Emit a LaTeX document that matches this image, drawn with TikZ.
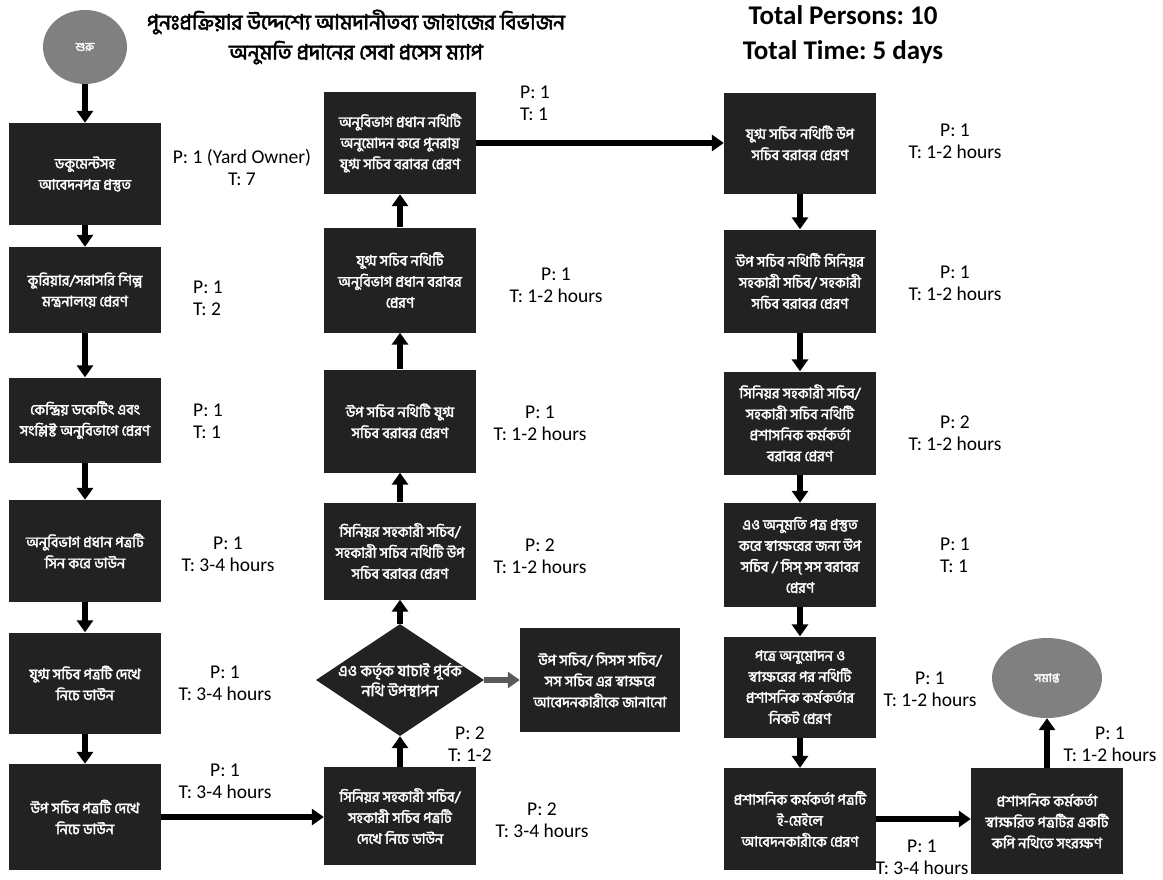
\documentclass[tikz,border=0pt]{standalone}
\usepackage{fontspec}
\setmainfont{Carlito}
\newfontfamily\bn[Script=Bengali]{Hind Siliguri}
\newfontfamily\bnb[Script=Bengali,FakeBold=2.5]{Hind Siliguri}
\usetikzlibrary{shapes.geometric,arrows.meta}
\definecolor{boxfill}{RGB}{34,34,34}
\definecolor{ellfill}{RGB}{128,128,128}
\definecolor{sidearr}{RGB}{90,90,90}
\frenchspacing
\tikzset{
  box/.style={rectangle, fill=boxfill, text=white, minimum width=152pt, align=center,
    inner sep=1pt, font=\bnb\fontsize{14.5}{21}\selectfont},
  lab/.style={align=center, font=\fontsize{19.5}{22}\selectfont, inner sep=0pt},
  labl/.style={align=left, font=\fontsize{19.5}{22}\selectfont, inner sep=0pt},
  arr/.style={line width=5.5pt, -{Triangle[width=16pt,length=12pt]}},
  term/.style={ellipse, fill=ellfill, text=white, font=\bnb\fontsize{12}{14}\selectfont}
}
\begin{document}
\begin{tikzpicture}[x=1pt,y=-1pt]
\useasboundingbox[fill=white] (0,0) rectangle (1163,879);

% header
\node[align=center, font=\bnb\fontsize{21}{30}\selectfont] (title) at (356,37)
  {পুনঃপ্রক্রিয়ার উদ্দেশ্যে আমদানীতব্য জাহাজের বিভাজন\\অনুমতি প্রদানের সেবা প্রসেস ম্যাপ};
\node[align=center, font=\bfseries\fontsize{27}{35}\selectfont] (tot) at (843,35)
  {Total Persons: 10\\Total Time: 5 days};

% column 1
\node[term, minimum width=84pt, minimum height=74pt] (start) at (85,47) {শুরু};
\node[box, minimum height=102pt] (b1) at (85,174) {ডকুমেন্টসহ\\আবেদনপত্র প্রস্তুত};
\node[box, minimum height=86pt] (b2) at (85,290) {কুরিয়ার/সরাসরি শিল্প\\মন্ত্রনালয়ে প্রেরণ};
\node[box, minimum height=85pt] (b3) at (85,420) {কেন্দ্রিয় ডকেটিং এবং\\সংশ্লিষ্ট অনুবিভাগে প্রেরণ};
\node[box, minimum height=102pt] (b4) at (85,551) {অনুবিভাগ প্রধান পত্রটি\\সিন করে ডাউন};
\node[box, minimum height=101pt] (b5) at (85,683) {যুগ্ম সচিব পত্রটি দেখে\\নিচে ডাউন};
\node[box, minimum height=106pt] (b6) at (85,817) {উপ সচিব পত্রটি দেখে\\নিচে ডাউন};

% column 2
\node[box, minimum height=98pt] (b7) at (400,816) {সিনিয়র সহকারী সচিব/\\সহকারী সচিব পত্রটি\\দেখে নিচে ডাউন};
\node[diamond, fill=boxfill, minimum width=168pt, minimum height=112pt, inner sep=0pt] (dia) at (400,680) {};
\node[align=center, text=white, font=\bnb\fontsize{15.5}{20}\selectfont] (diatext) at (dia.center) {এও কর্তৃক যাচাই পূর্বক\\নথি উপস্থাপন};
\node[box, minimum width=160pt, minimum height=104pt] (side) at (600,680) {উপ সচিব/ সিসস সচিব/\\সস সচিব এর স্বাক্ষরে\\আবেদনকারীকে জানানো};
\node[box, minimum height=97pt] (b8) at (400,551) {সিনিয়র সহকারী সচিব/\\সহকারী সচিব নথিটি উপ\\সচিব বরাবর প্রেরণ};
\node[box, minimum height=103pt] (b9) at (400,421) {উপ সচিব নথিটি যুগ্ম\\সচিব বরাবর প্রেরণ};
\node[box, minimum height=105pt] (b10) at (400,280) {যুগ্ম সচিব নথিটি\\অনুবিভাগ প্রধান বরাবর\\প্রেরণ};
\node[box, minimum height=102pt] (b11) at (400,143) {অনুবিভাগ প্রধান নথিটি\\অনুমোদন করে পুনরায়\\যুগ্ম সচিব বরাবর প্রেরণ};

% column 3
\node[box, minimum height=101pt] (b12) at (800,143) {যুগ্ম সচিব নথিটি উপ\\সচিব বরাবর প্রেরণ};
\node[box, minimum height=103pt] (b13) at (800,281) {উপ সচিব নথিটি সিনিয়র\\সহকারী সচিব/ সহকারী\\সচিব বরাবর প্রেরণ};
\node[box, minimum height=103pt] (b14) at (800,423) {সিনিয়র সহকারী সচিব/\\সহকারী সচিব নথিটি\\প্রশাসনিক কর্মকর্তা\\বরাবর প্রেরণ};
\node[box, minimum height=104pt] (b15) at (800,555) {এও অনুমতি পত্র প্রস্তুত\\করে স্বাক্ষরের জন্য উপ\\সচিব / সিস্ সস বরাবর\\প্রেরণ};
\node[box, minimum height=101pt] (b16) at (800,687) {পত্রে অনুমোদন ও\\স্বাক্ষরের পর নথিটি\\প্রশাসনিক কর্মকর্তার\\নিকট প্রেরণ};
\node[box, minimum height=102pt] (b17) at (800,819) {প্রশাসনিক কর্মকর্তা পত্রটি\\ই-মেইলে\\আবেদনকারীকে প্রেরণ};
\node[box, minimum height=106pt] (b18) at (1047,821) {প্রশাসনিক কর্মকর্তা\\স্বাক্ষরিত পত্রটির একটি\\কপি নথিতে সংরক্ষণ};
\node[term, minimum width=110pt, minimum height=80pt] (end) at (1047,678) {সমাপ্ত};

% labels
\node[lab] (l1) at (242,167) {P: 1 (Yard Owner)\\T: 7};
\node[labl, anchor=west] (l2) at (193,298) {P: 1\\T: 2};
\node[labl, anchor=west] (l3) at (193,421) {P: 1\\T: 1};
\node[lab] (l4) at (228,554) {P: 1\\T: 3-4 hours};
\node[lab] (l5) at (225,683) {P: 1\\T: 3-4 hours};
\node[lab] (l6) at (225,781) {P: 1\\T: 3-4 hours};
\node[lab] (l7) at (542,820) {P: 2\\T: 3-4 hours};
\node[lab] (ld) at (470,744) {P: 2\\T: 1-2};
\node[lab] (l8) at (540,556) {P: 2\\T: 1-2 hours};
\node[lab] (l9) at (540,423) {P: 1\\T: 1-2 hours};
\node[lab] (l10) at (556,285) {P: 1\\T: 1-2 hours};
\node[labl, anchor=west] (l11) at (520,103) {P: 1\\T: 1};
\node[lab] (l12) at (955,141) {P: 1\\T: 1-2 hours};
\node[lab] (l13) at (955,283) {P: 1\\T: 1-2 hours};
\node[lab] (l14) at (955,433) {P: 2\\T: 1-2 hours};
\node[labl, anchor=west] (l15) at (940,555) {P: 1\\T: 1};
\node[lab] (l16) at (930,689) {P: 1\\T: 1-2 hours};
\node[lab] (l17) at (922,857) {P: 1\\T: 3-4 hours};
\node[lab] (l18) at (1110,744) {P: 1\\T: 1-2 hours};

% connectors
\draw[arr] (start) -- (b1);
\draw[arr] (b1) -- (b2);
\draw[arr] (b2) -- (b3);
\draw[arr] (b3) -- (b4);
\draw[arr] (b4) -- (b5);
\draw[arr] (b5) -- (b6);
\draw[arr] (b6.east) -- (b7.west |- b6.east);
\draw[arr] (b7) -- (dia);
\draw[arr, draw=sidearr] (dia) -- (side);
\draw[arr] (dia) -- (b8);
\draw[arr] (b8) -- (b9);
\draw[arr] (b9) -- (b10);
\draw[arr] (b10) -- (b11);
\draw[arr] (b11) -- (b12);
\draw[arr] (b12) -- (b13);
\draw[arr] (b13) -- (b14);
\draw[arr] (b14) -- (b15);
\draw[arr] (b15) -- (b16);
\draw[arr] (b16) -- (b17);
\draw[arr] (b17.east) -- (b18.west |- b17.east);
\draw[arr] (b18) -- (end);
\end{tikzpicture}
\end{document}
